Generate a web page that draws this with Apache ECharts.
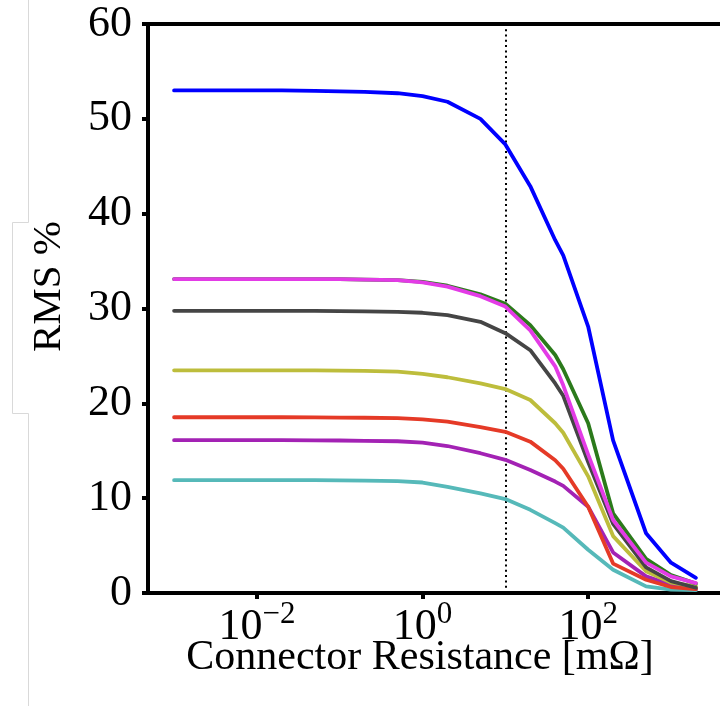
<!DOCTYPE html>
<html><head><meta charset="utf-8">
<script src="https://cdn.jsdelivr.net/npm/echarts@6/dist/echarts.min.js"></script>
<style>html,body{margin:0;padding:0;background:#fff}#c{width:720px;height:706px}</style>
</head><body><div id="c"></div>
<script>
// Connector resistance [mΩ]
const resistance = [0.001, 0.002, 0.005, 0.01, 0.02, 0.05, 0.1, 0.2, 0.5, 1, 2, 5, 10, 20, 40, 50, 100, 200, 500, 1000, 2000];
// RMS % per curve
const blueRms    = [53.0, 53.0, 53.0, 53.0, 53.0, 52.95, 52.9, 52.85, 52.7, 52.4, 51.8, 50.0, 47.3, 42.9, 37.2, 35.6, 28.1, 16.1, 6.3, 3.2, 1.6];
const greenRms   = [33.1, 33.1, 33.1, 33.1, 33.1, 33.1, 33.1, 33.05, 33.0, 32.8, 32.4, 31.5, 30.5, 28.25, 25.1, 23.6, 17.9, 8.4, 3.6, 1.9, 1.0];
const magentaRms = [33.1, 33.1, 33.1, 33.1, 33.1, 33.1, 33.1, 33.05, 33.0, 32.75, 32.3, 31.3, 30.2, 27.7, 23.9, 21.9, 14.6, 7.7, 3.2, 1.75, 1.05];
const grayRms    = [29.75, 29.75, 29.75, 29.75, 29.75, 29.75, 29.72, 29.7, 29.65, 29.55, 29.3, 28.6, 27.4, 25.6, 22.1, 20.8, 13.8, 7.3, 2.7, 1.25, 0.55];
const oliveRms   = [23.48, 23.48, 23.48, 23.48, 23.48, 23.47, 23.45, 23.42, 23.35, 23.1, 22.75, 22.1, 21.5, 20.35, 17.9, 16.9, 12.3, 6.0, 2.3, 1.1, 0.7];
const redRms     = [18.53, 18.53, 18.53, 18.53, 18.53, 18.52, 18.5, 18.48, 18.45, 18.3, 18.07, 17.5, 17.0, 15.96, 14.0, 13.1, 9.1, 3.1, 1.4, 0.63, 0.4];
const purpleRms  = [16.11, 16.11, 16.11, 16.11, 16.11, 16.1, 16.08, 16.05, 16.0, 15.86, 15.5, 14.74, 14.04, 12.98, 11.75, 11.3, 9.1, 4.28, 1.75, 0.87, 0.45];
const tealRms    = [11.9, 11.9, 11.9, 11.9, 11.9, 11.9, 11.88, 11.85, 11.8, 11.65, 11.2, 10.5, 9.9, 8.77, 7.37, 6.9, 4.56, 2.45, 0.7, 0.35, 0.3];
// Reference line
const referenceResistance = 10;
// Tick labels
const xTickValues = [0.01, 1, 100];
const xTickLabels = ['10{s|\u22122}', '10{s|0}', '10{s|2}'];
const xAxisTitle = 'Connector Resistance [m\u03A9]';
const yAxisTitle = 'RMS %';

const FONT = 'Liberation Serif';
const curves = [
  { name: 'teal', color: '#56b9b9', values: tealRms },
  { name: 'purple', color: '#a322b4', values: purpleRms },
  { name: 'red', color: '#e53a27', values: redRms },
  { name: 'olive', color: '#bdbd3c', values: oliveRms },
  { name: 'gray', color: '#454545', values: grayRms },
  { name: 'green', color: '#2b7a1b', values: greenRms },
  { name: 'magenta', color: '#e33be6', values: magentaRms },
  { name: 'blue', color: '#0000ff', values: blueRms }
];

const series = curves.map((c, i) => ({
  name: c.name,
  type: 'line',
  symbol: 'none',
  showSymbol: false,
  data: resistance.map((x, j) => [x, c.values[j]]),
  lineStyle: { color: c.color, width: 3.8, cap: 'round', join: 'round' },
  itemStyle: { color: c.color },
  z: 3 + i
}));
series[0].markLine = {
  silent: true,
  symbol: ['none', 'none'],
  label: { show: false },
  lineStyle: { color: '#000', width: 2, type: [2, 3.3] },
  data: [{ xAxis: referenceResistance }],
  z: 2
};

const chart = echarts.init(document.getElementById('c'), null, { renderer: 'canvas' });
chart.setOption({
  animation: false,
  backgroundColor: '#fff',
  grid: {
    left: 148, top: 24, width: 574, height: 569,
    containLabel: false, outerBoundsMode: 'none',
    show: true, borderColor: '#000', borderWidth: 4, backgroundColor: 'transparent'
  },
  xAxis: {
    type: 'log', logBase: 10,
    min: Math.pow(10, -3.315), max: Math.pow(10, 3.616),
    name: xAxisTitle, nameLocation: 'middle', nameGap: 44, nameMoveOverlap: false,
    nameTextStyle: { fontFamily: FONT, fontSize: 42, color: '#000', padding: [0, 30, 0, 0] },
    axisLine: { show: true, lineStyle: { color: '#000', width: 4 } },
    axisTick: { show: true, customValues: xTickValues, length: 6, lineStyle: { color: '#000', width: 4 } },
    minorTick: { show: false },
    splitLine: { show: false },
    axisLabel: {
      customValues: xTickValues, margin: 6, color: '#000',
      formatter: function (v) {
        const e = Math.round(Math.log10(v));
        const idx = xTickValues.findIndex(t => Math.round(Math.log10(t)) === e);
        return idx >= 0 ? '{b|' + xTickLabels[idx].replace('{s|', '}{s|') : '';
      },
      rich: {
        b: { fontFamily: FONT, fontSize: 44, color: '#000', lineHeight: 50, verticalAlign: 'bottom' },
        s: { fontFamily: FONT, fontSize: 31, color: '#000', lineHeight: 30, verticalAlign: 'top' }
      }
    }
  },
  yAxis: {
    type: 'value', min: 0, max: 60, interval: 10,
    name: yAxisTitle, nameLocation: 'middle', nameGap: 78,
    nameTextStyle: { fontFamily: FONT, fontSize: 41, color: '#000', padding: [0, 0, 0, 44] },
    axisLine: { show: true, lineStyle: { color: '#000', width: 4 } },
    axisTick: { show: true, length: 6, lineStyle: { color: '#000', width: 4 } },
    splitLine: { show: false },
    axisLabel: { fontFamily: FONT, fontSize: 44, color: '#000', margin: 16 }
  },
  graphic: [{
    type: 'polyline', silent: true, z: 0,
    shape: { points: [[28.5, 0], [28.5, 222.5], [12.5, 222.5], [12.5, 413.5], [28.5, 413.5], [28.5, 706]] },
    style: { stroke: '#d9d9d9', lineWidth: 1, fill: null }
  }],
  series: series
});
</script>
</body></html>
